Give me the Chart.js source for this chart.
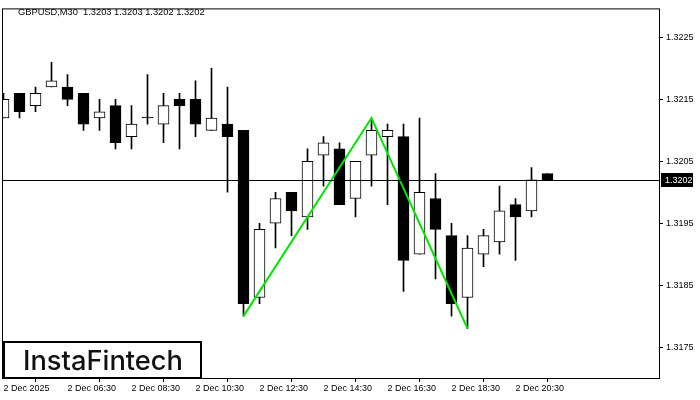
<!DOCTYPE html>
<html lang="en">
<head>
    <meta charset="UTF-8" />
    <title>GBPUSD M30</title>
    <script src="https://cdn.jsdelivr.net/npm/chart.js"></script>
    <style>
        html, body { margin: 0; padding: 0; background: #fff; }
        #chart { display: block; }
    </style>
</head>
<body>
    <canvas id="chart" width="700" height="400"></canvas>

    <script>
        // 30-minute bars, 2 Dec 2025 04:30 .. 21:30
        const bars = ['04:30','05:00','05:30','06:00','06:30','07:00','07:30','08:00','08:30','09:00',
                      '09:30','10:00','10:30','11:00','11:30','12:00','12:30','13:00','13:30','14:00',
                      '14:30','15:00','15:30','16:00','16:30','17:00','17:30','18:00','18:30','19:00',
                      '19:30','20:00','20:30','21:00','21:30'];
        const opens  = [1.3212,1.3216,1.3214,1.3217,1.3217,1.3216,1.3212,1.3214,1.3209,1.3212,
                        1.3211,1.3215,1.3215,1.3210,1.3211,1.3210,1.3183,1.3195,1.3200,1.3196,
                        1.3206,1.3207,1.3199,1.3206,1.3209,1.3209,1.3190,1.3199,1.3193,1.3183,
                        1.3190,1.3192,1.3198,1.3197,1.3203];
        const highs  = [1.3216,1.3216,1.3217,1.3221,1.3219,1.3216,1.3215,1.3215,1.3214,1.3219,
                        1.3216,1.3216,1.3218,1.3220,1.3217,1.3210,1.3195,1.3200,1.3200,1.3207,
                        1.3209,1.3208,1.3205,1.3212,1.3211,1.3211,1.3212,1.3203,1.3195,1.3193,
                        1.3194,1.3201,1.3199,1.3204,1.3203];
        const lows   = [1.3212,1.3212,1.3213,1.3217,1.3214,1.3210,1.3210,1.3207,1.3207,1.3211,
                        1.3208,1.3207,1.3209,1.3210,1.3200,1.3180,1.3182,1.3191,1.3193,1.3194,
                        1.3201,1.3198,1.3196,1.3201,1.3198,1.3184,1.3190,1.3186,1.3180,1.3178,
                        1.3188,1.3190,1.3189,1.3196,1.3202];
        const closes = [1.3215,1.3213,1.3216,1.3218,1.3215,1.3211,1.3213,1.3208,1.3211,1.3212,
                        1.3214,1.3214,1.3211,1.3212,1.3209,1.3182,1.3194,1.3199,1.3197,1.3205,
                        1.3208,1.3198,1.3205,1.3210,1.3210,1.3189,1.3200,1.3194,1.3182,1.3191,
                        1.3193,1.3197,1.3196,1.3202,1.3202];

        // double top / bottom pattern line
        const patternIdx = [15, 23, 29];
        const patternPrice = [1.3180, 1.3212, 1.3178];

        const yTicks = [1.3175, 1.3185, 1.3195, 1.3205, 1.3215, 1.3225];
        const xTickIdx = [0, 4, 8, 12, 16, 20, 24, 28, 32];
        const xTickLabels = ['2 Dec 2025','2 Dec 06:30','2 Dec 08:30','2 Dec 10:30','2 Dec 12:30',
                             '2 Dec 14:30','2 Dec 16:30','2 Dec 18:30','2 Dec 20:30'];

        const title = 'GBPUSD,M30  1.3203 1.3203 1.3202 1.3202';
        const lastPrice = closes[closes.length - 1];

        const axisFont = { family: 'Liberation Sans', size: 9 };

        const wickData = bars.map((b, i) => ({ x: i, y: [lows[i], highs[i]] }));
        const bodyData = bars.map((b, i) => ({ x: i, y: [opens[i], closes[i]] }));
        const bodyColors = bars.map((b, i) => closes[i] > opens[i] ? '#ffffff' : '#000000');

        const overlay = {
            id: 'overlay',
            afterDatasetsDraw(chart) {
                const { ctx, chartArea: a, scales } = chart;
                const y = Math.round(scales.y.getPixelForValue(lastPrice)) + 0.5;
                ctx.save();
                ctx.strokeStyle = '#000';
                ctx.lineWidth = 1;
                ctx.beginPath();
                ctx.moveTo(a.left, y);
                ctx.lineTo(a.right, y);
                ctx.stroke();
                ctx.restore();
            },
            afterDraw(chart) {
                const { ctx, chartArea: a, scales } = chart;
                ctx.save();
                // frame
                ctx.strokeStyle = '#000';
                ctx.lineWidth = 1;
                ctx.strokeRect(a.left + 0.5, a.top + 0.5, a.right - a.left, a.bottom - a.top);

                // last price tag on the axis
                const y = Math.round(scales.y.getPixelForValue(lastPrice));
                ctx.fillStyle = '#000';
                ctx.fillRect(a.right + 2, y - 7, 32, 14);
                ctx.fillStyle = '#fff';
                ctx.font = '9px "Liberation Sans"';
                ctx.textBaseline = 'middle';
                ctx.textAlign = 'left';
                ctx.fillText(lastPrice.toFixed(4), a.right + 6, y + 0.5);

                // symbol line
                ctx.fillStyle = '#000';
                ctx.font = '9.3px "Liberation Sans"';
                ctx.fillText(title, 18, 12);

                // logo
                ctx.fillStyle = '#fff';
                ctx.fillRect(4, 342, 197, 36);
                ctx.strokeStyle = '#000';
                ctx.lineWidth = 2;
                ctx.strokeRect(4, 342, 197, 36);
                ctx.font = '500 27px Inter';
                ctx.textBaseline = 'alphabetic';
                const logo = 'InstaFintech';
                const w = ctx.measureText(logo).width;
                ctx.translate(23, 369.5);
                ctx.scale(160 / w, 1);
                ctx.fillStyle = '#111';
                ctx.fillText(logo, 0, 0);
                ctx.restore();
            }
        };

        new Chart(document.getElementById('chart'), {
            type: 'bar',
            data: {
                datasets: [
                    {
                        type: 'line',
                        data: patternIdx.map((x, i) => ({ x: x, y: patternPrice[i] })),
                        borderColor: 'rgb(0,230,0)',
                        borderWidth: 2,
                        pointRadius: 0,
                        tension: 0,
                        order: 0
                    },
                    {
                        data: bodyData,
                        backgroundColor: bodyColors,
                        borderColor: '#000',
                        borderWidth: 1,
                        borderSkipped: false,
                        barThickness: 11,
                        minBarLength: 1,
                        grouped: false,
                        order: 1
                    },
                    {
                        data: wickData,
                        backgroundColor: '#000',
                        borderWidth: 0,
                        barThickness: 1,
                        grouped: false,
                        order: 2
                    }
                ]
            },
            options: {
                responsive: false,
                animation: false,
                layout: { padding: { left: 2, top: 6, right: 0, bottom: 0 } },
                plugins: {
                    legend: { display: false },
                    tooltip: { enabled: false }
                },
                scales: {
                    x: {
                        type: 'linear',
                        offset: false,
                        min: -0.09375,
                        max: 40.96875,
                        afterBuildTicks: s => { s.ticks = xTickIdx.map(v => ({ value: v })); },
                        afterFit: s => { s.height = 22; },
                        grid: { drawOnChartArea: false, drawTicks: true, tickLength: 4, color: '#000' },
                        border: { display: false },
                        ticks: {
                            autoSkip: false,
                            maxRotation: 0,
                            align: 'start',
                            padding: 1,
                            color: '#000',
                            font: axisFont,
                            callback: (v, i) => xTickLabels[i]
                        }
                    },
                    y: {
                        position: 'right',
                        min: 1.3170,
                        max: 1.32297,
                        afterBuildTicks: s => { s.ticks = yTicks.map(v => ({ value: v })); },
                        afterFit: s => { s.width = 41; },
                        grid: { drawOnChartArea: false, drawTicks: true, tickLength: 4, color: '#000' },
                        border: { display: false },
                        ticks: {
                            padding: 3,
                            color: '#000',
                            font: axisFont,
                            callback: v => v.toFixed(4)
                        }
                    }
                }
            },
            plugins: [overlay]
        });
    </script>
</body>
</html>
